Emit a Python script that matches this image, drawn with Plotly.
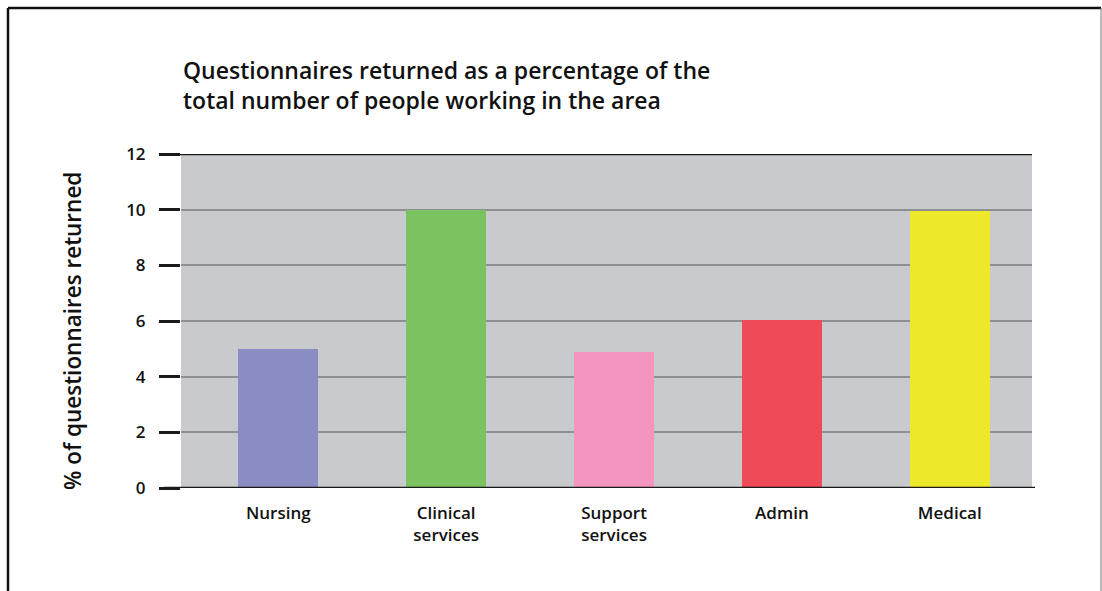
import plotly.graph_objects as go

# Data
categories = ["Nursing", "Clinical<br>services", "Support<br>services", "Admin", "Medical"]
returned_pct = [5.0, 10.0, 4.9, 6.05, 9.95]
bar_colors = ["#8a8cc4", "#7bc261", "#f395bd", "#ef4a57", "#ede82a"]
y_ticks = [0, 2, 4, 6, 8, 10, 12]
title_lines = ["Questionnaires returned as a percentage of the",
               "total number of people working in the area"]

W, H = 1102, 591
L, R, T, B = 181, 1032, 154, 488   # plot area in pixels

FONT = "Open Sans"


def px_x(px):
    return (px - L) / (R - L)


def px_y(py):
    return (B - py) / (B - T)


fig = go.Figure(
    go.Bar(
        x=list(range(len(categories))),
        y=returned_pct,
        width=0.477,
        marker=dict(color=bar_colors, line=dict(width=0)),
        hoverinfo="skip",
    )
)

shapes = [
    # heavy line along 0 and 12
    dict(type="line", xref="paper", yref="y", x0=px_x(164), x1=px_x(1035), y0=0, y1=0,
         line=dict(color="#1a1a1a", width=2.5), layer="above"),
    dict(type="line", xref="paper", yref="y", x0=px_x(160), x1=px_x(1032), y0=12, y1=12,
         line=dict(color="#1a1a1a", width=2.5), layer="above"),
    # outer frame
    dict(type="line", xref="paper", yref="paper", x0=px_x(8), x1=px_x(8), y0=px_y(8), y1=px_y(600),
         line=dict(color="#111111", width=2.5)),
    dict(type="line", xref="paper", yref="paper", x0=px_x(8), x1=px_x(1101), y0=px_y(8), y1=px_y(8),
         line=dict(color="#111111", width=2.5)),
    dict(type="line", xref="paper", yref="paper", x0=px_x(1101), x1=px_x(1101), y0=px_y(8), y1=px_y(600),
         line=dict(color="#777777", width=1)),
]

fig.update_layout(
    width=W,
    height=H,
    margin=dict(l=L, r=W - R, t=T, b=H - B, pad=0),
    paper_bgcolor="white",
    plot_bgcolor="#c9cacd",
    showlegend=False,
    bargap=0,
    shapes=shapes,
    font=dict(family=FONT, color="#111111"),
    annotations=[
        dict(
            text="<br>".join(title_lines),
            xref="paper", yref="paper", x=px_x(181), y=px_y(52),
            xanchor="left", yanchor="top", align="left", showarrow=False,
            font=dict(family=FONT, size=23, color="#111111", weight=600),
        ),
        dict(
            text="% of questionnaires returned",
            xref="paper", yref="paper", x=px_x(72), y=px_y(331),
            xanchor="center", yanchor="middle", textangle=-90, showarrow=False,
            font=dict(family=FONT, size=22.5, color="#111111", weight=600),
        ),
    ],
    xaxis=dict(
        range=[-0.58, 4.49],
        tickmode="array",
        tickvals=list(range(len(categories))),
        ticktext=categories,
        ticks="",
        showgrid=False,
        zeroline=False,
        showline=False,
        ticklabelstandoff=13,
        tickfont=dict(family=FONT, size=17, color="#111111", weight=600),
    ),
    yaxis=dict(
        range=[0, 12],
        tickmode="array",
        tickvals=y_ticks,
        ticks="outside",
        ticklen=21,
        tickwidth=2.5,
        tickcolor="#1a1a1a",
        ticklabelstandoff=10,
        showgrid=True,
        gridcolor="#8e8f93",
        gridwidth=2,
        zeroline=False,
        showline=False,
        tickfont=dict(family=FONT, size=17, color="#111111", weight=600),
    ),
)

fig.write_html("out.html")
